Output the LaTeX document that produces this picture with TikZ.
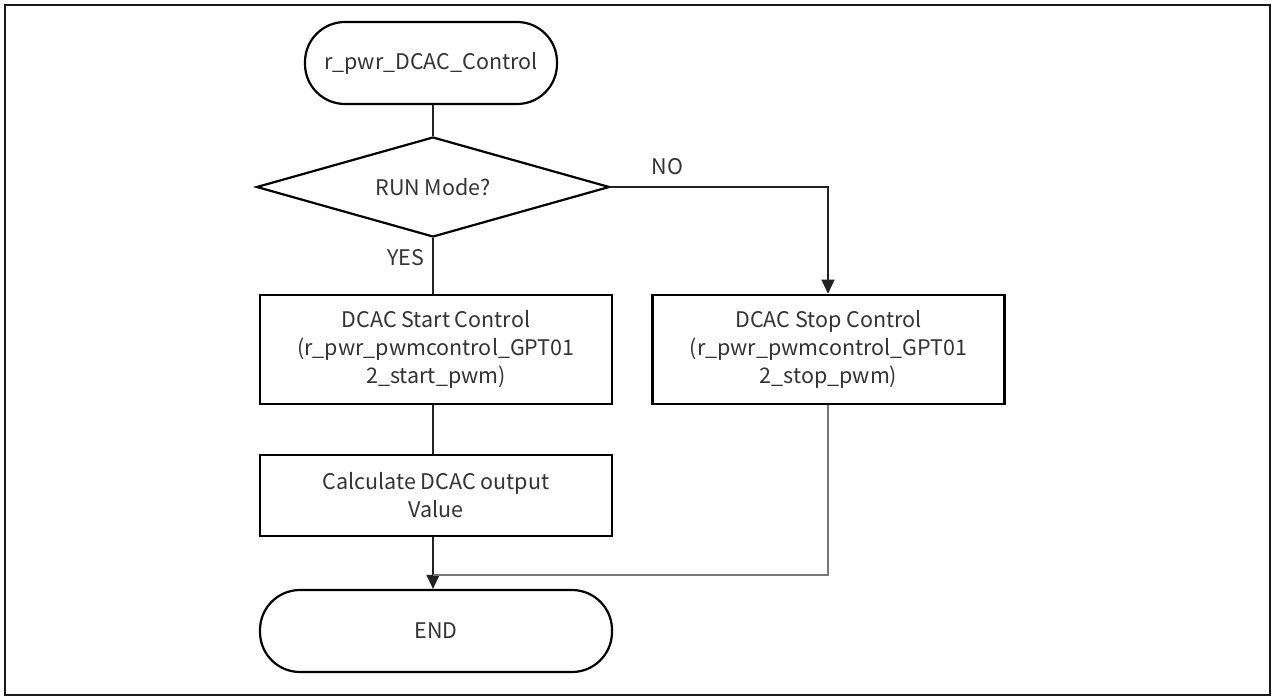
\documentclass[tikz,border=0pt]{standalone}
\usepackage{fontspec}
\setmainfont{Noto Sans CJK JP}
\usetikzlibrary{arrows.meta,shapes.geometric}
\definecolor{txt}{HTML}{333333}
\definecolor{ln}{HTML}{222222}
\definecolor{gl}{HTML}{777777}
\tikzset{
  every node/.style={font=\fontsize{21.5}{28}\selectfont, text=txt},
  procbox/.style={draw=black, line width=2.6pt, rectangle, minimum width=352pt, minimum height=#1, align=center, inner sep=0pt},
  term/.style={draw=black, line width=2.2pt, rectangle, rounded corners=40pt, minimum width=#1, minimum height=82pt, inner sep=0pt},
  decision/.style={draw=black, line width=2.2pt, diamond, aspect=3.53, minimum width=353pt, minimum height=100pt, inner sep=0pt},
  conn/.style={draw=ln, line width=1.3pt},
  arr/.style={conn, -{Triangle[width=13pt,length=14pt]}},
  lbl/.style={font=\fontsize{21.5}{25}\selectfont}
}
\begin{document}
\begin{tikzpicture}[x=1pt,y=-1pt]
\useasboundingbox (0,0) rectangle (1274,700);
\draw[line width=2pt, draw=black!90] (5,5) rectangle (1270,695);
\node[term=252pt] (start) at (431,63) {r\_pwr\_DCAC\_Control};
\node[decision] (dec) at (433,187) {RUN Mode?};
\node[procbox=109pt] (startc) at (436,349.5) {DCAC Start Control\\(r\_pwr\_pwmcontrol\_GPT01\\2\_start\_pwm)};
\node[procbox=109pt] (stopc) at (828.5,349.5) {DCAC Stop Control\\(r\_pwr\_pwmcontrol\_GPT01\\2\_stop\_pwm)};
\node[procbox=81pt] (calc) at (436,495.5) {Calculate DCAC output\\Value};
\node[term=352pt] (endn) at (436,631) {END};
\coordinate (nocorner) at (828,187);
\coordinate (merge) at (433,575);
\coordinate (stopdown) at (828,575);
\draw[conn] (start.south -| dec.north) -- (dec.north);
\draw[arr] (dec.east) -- (nocorner) -- (stopc.north -| nocorner);
\draw[conn] (dec.south) -- (dec.south |- startc.north);
\draw[conn] (dec.south |- startc.south) -- (dec.south |- calc.north);
\draw[arr] (dec.south |- calc.south) -- (dec.south |- endn.north);
\draw[draw=gl, line width=1.6pt] (stopc.south -| nocorner) -- (stopdown) -- (merge);
\node[lbl, anchor=south west] (no) at (648,178) {NO};
\node[lbl, anchor=east] (yes) at (428,258) {YES};
\end{tikzpicture}
\end{document}
